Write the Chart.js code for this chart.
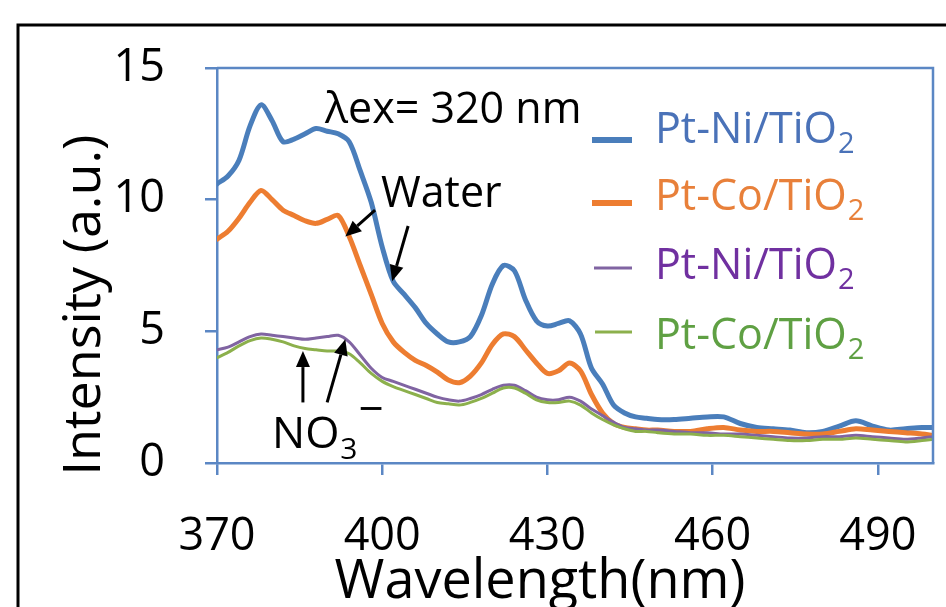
<!DOCTYPE html>
<html>
<head>
<meta charset="utf-8">
<title>PL spectra</title>
<script src="https://cdn.jsdelivr.net/npm/chart.js@4.4.0/dist/chart.umd.min.js"></script>
<style>
  html, body { margin: 0; padding: 0; background: #fff; }
  #wrap { width: 946px; height: 607px; }
</style>
</head>
<body>
<div id="wrap"><canvas id="myChart" width="946" height="607"></canvas></div>
<script>
//--- data
var wavelength = [370, 372, 374, 376, 378, 380, 382, 384, 386, 388, 390, 392, 394, 396, 398, 400,
    402, 404, 406, 408, 410, 412, 414, 416, 418, 420, 422, 424, 426, 428, 430, 432, 434, 436, 438,
    440, 442, 444, 446, 448, 450, 453, 456, 459, 462, 465, 468, 471, 474, 477, 480, 483, 486, 489,
    492, 495, 498, 500];
var ptNiWater = [10.6, 10.9, 11.5, 12.8, 13.6, 13.0, 12.2, 12.3, 12.5, 12.7, 12.6, 12.5, 12.2, 11.1, 9.9, 8.2,
    6.9, 6.4, 5.9, 5.3, 4.9, 4.6, 4.6, 4.8, 5.6, 6.8, 7.5, 7.3, 6.2, 5.4, 5.2, 5.3, 5.4, 4.9, 3.6,
    3.0, 2.2, 1.9, 1.75, 1.7, 1.65, 1.65, 1.7, 1.75, 1.75, 1.5, 1.35, 1.3, 1.25, 1.15, 1.2, 1.4, 1.6, 1.4,
    1.25, 1.3, 1.35, 1.35];
var ptCoWater = [8.5, 8.8, 9.3, 9.9, 10.35, 10.0, 9.6, 9.4, 9.2, 9.1, 9.25, 9.4, 8.6, 7.5, 6.4, 5.3,
    4.6, 4.2, 3.9, 3.7, 3.45, 3.15, 3.05, 3.3, 3.8, 4.5, 4.9, 4.8, 4.3, 3.8, 3.4, 3.5, 3.8, 3.5, 2.6,
    1.9, 1.5, 1.35, 1.3, 1.25, 1.25, 1.2, 1.2, 1.3, 1.35, 1.25, 1.2, 1.2, 1.15, 1.1, 1.1, 1.2, 1.3, 1.25,
    1.2, 1.15, 1.1, 1.05];
var ptNiNitrate = [4.3, 4.4, 4.6, 4.8, 4.9, 4.85, 4.8, 4.75, 4.7, 4.75, 4.8, 4.85, 4.6, 4.1, 3.6, 3.25,
    3.1, 2.95, 2.8, 2.65, 2.5, 2.4, 2.35, 2.45, 2.6, 2.8, 2.95, 2.95, 2.75, 2.5, 2.4, 2.4, 2.5, 2.35, 2.05,
    1.8, 1.55, 1.35, 1.3, 1.25, 1.25, 1.2, 1.15, 1.15, 1.1, 1.1, 1.05, 1.0, 0.95, 0.95, 1.0, 1.0, 1.05, 1.0,
    0.95, 0.9, 0.95, 1.0];
var ptCoNitrate = [4.0, 4.2, 4.45, 4.65, 4.75, 4.7, 4.6, 4.45, 4.35, 4.3, 4.25, 4.25, 4.15, 3.8, 3.4, 3.1,
    2.9, 2.75, 2.6, 2.45, 2.3, 2.25, 2.2, 2.3, 2.45, 2.65, 2.85, 2.85, 2.65, 2.4, 2.3, 2.3, 2.35, 2.2, 1.9,
    1.65, 1.45, 1.3, 1.2, 1.2, 1.15, 1.1, 1.1, 1.05, 1.05, 1.0, 0.95, 0.9, 0.85, 0.85, 0.9, 0.9, 0.95, 0.9,
    0.85, 0.8, 0.85, 0.9];
var seriesLabels = ['Pt-Ni/TiO2', 'Pt-Co/TiO2', 'Pt-Ni/TiO2', 'Pt-Co/TiO2'];
var xTicks = [370, 400, 430, 460, 490];
var yTicks = [0, 5, 10, 15];

var FONT = "'Open Sans', sans-serif";
var AXIS = '#5b87c4';

function toPoints(values) {
    return values.map(function (v, i) { return { x: wavelength[i], y: v }; });
}

// arrow with filled head, from (x1,y1) to the tip (x2,y2)
function arrow(ctx, x1, y1, x2, y2) {
    var a = Math.atan2(y2 - y1, x2 - x1), L = 16, W = 7;
    var bx = x2 - L * Math.cos(a), by = y2 - L * Math.sin(a);
    ctx.beginPath();
    ctx.moveTo(x1, y1);
    ctx.lineTo(bx, by);
    ctx.stroke();
    ctx.beginPath();
    ctx.moveTo(x2, y2);
    ctx.lineTo(bx + W * Math.sin(a), by - W * Math.cos(a));
    ctx.lineTo(bx - W * Math.sin(a), by + W * Math.cos(a));
    ctx.closePath();
    ctx.fill();
}

// text with the last char as subscript (TiO2, NO3)
function subText(ctx, text, x, y, size, subSize, drop) {
    var base = text.slice(0, -1), sub = text.slice(-1);
    ctx.font = size + 'px ' + FONT;
    ctx.fillText(base, x, y);
    var w = ctx.measureText(base).width;
    ctx.font = subSize + 'px ' + FONT;
    ctx.fillText(sub, x + w + 1, y + drop);
    return x + w + 1 + ctx.measureText(sub).width;
}

var decorations = {
    id: 'decorations',
    beforeDraw: function (chart) {
        var ctx = chart.ctx;
        ctx.save();
        ctx.fillStyle = '#fff';
        ctx.fillRect(0, 0, chart.width, chart.height);
        ctx.strokeStyle = '#000';
        ctx.lineWidth = 3;
        ctx.strokeRect(18, 25, chart.width + 20, chart.height + 20);
        ctx.restore();
    },
    afterDraw: function (chart) {
        var ctx = chart.ctx, a = chart.chartArea;
        var sx = chart.scales.x, sy = chart.scales.y;
        ctx.save();
        // top and right frame of the plot area
        ctx.strokeStyle = AXIS;
        ctx.lineWidth = 2.5;
        ctx.beginPath();
        ctx.moveTo(a.left, a.top);
        ctx.lineTo(a.right, a.top);
        ctx.lineTo(a.right, a.bottom);
        ctx.stroke();

        // axis titles
        ctx.fillStyle = '#000';
        ctx.textBaseline = 'alphabetic';
        ctx.textAlign = 'center';
        ctx.font = '54px ' + FONT;
        ctx.fillText('Wavelength(nm)', 540, 598);
        ctx.save();
        ctx.translate(100, 305);
        ctx.rotate(-Math.PI / 2);
        ctx.font = '52px ' + FONT;
        ctx.fillText('Intensity (a.u.)', 0, 0);
        ctx.restore();

        // annotations
        ctx.textAlign = 'left';
        ctx.font = '43px ' + FONT;
        ctx.fillText('\u03BBex= 320 nm', 325, 123);
        ctx.fillText('Water', 381, 207);
        var nEnd = subText(ctx, 'NO3', 272, 448, 44, 30, 11);
        ctx.font = '44px ' + FONT;
        ctx.fillText('\u2212', nEnd + 1, 424);

        ctx.strokeStyle = '#000';
        ctx.lineWidth = 3;
        arrow(ctx, sx.getPixelForValue(398.7), sy.getPixelForValue(9.6), sx.getPixelForValue(393.3), sy.getPixelForValue(8.6));
        arrow(ctx, sx.getPixelForValue(404.7), sy.getPixelForValue(9.0), sx.getPixelForValue(401.8), sy.getPixelForValue(6.9));
        arrow(ctx, sx.getPixelForValue(385.6), sy.getPixelForValue(2.3), sx.getPixelForValue(385.6), sy.getPixelForValue(4.25));
        arrow(ctx, sx.getPixelForValue(390.0), sy.getPixelForValue(2.3), sx.getPixelForValue(393.3), sy.getPixelForValue(4.7));

        // legend
        var rows = [
            { y: 143, line: 140, x0: 592, w: 6, color: '#4a7ebb', text: '#4a72b8' },
            { y: 210, line: 203, x0: 592, w: 6, color: '#ed7d31', text: '#e8803a' },
            { y: 279, line: 268, x0: 594, w: 3, color: '#8064a2', text: '#7030a0' },
            { y: 349, line: 332, x0: 595, w: 3, color: '#8cb04c', text: '#5fa043' }
        ];
        rows.forEach(function (r, i) {
            ctx.strokeStyle = r.color;
            ctx.lineWidth = r.w;
            ctx.beginPath();
            ctx.moveTo(r.x0, r.line);
            ctx.lineTo(632, r.line);
            ctx.stroke();
            ctx.fillStyle = r.text;
            subText(ctx, seriesLabels[i], 655, r.y, 43, 29, 10);
        });
        ctx.restore();
    }
};

var ctx = document.getElementById('myChart');
new Chart(ctx, {
    type: 'line',
    data: {
        datasets: [
            { label: seriesLabels[0], data: toPoints(ptNiWater), borderColor: '#4a7ebb', borderWidth: 5, order: 3 },
            { label: seriesLabels[1], data: toPoints(ptCoWater), borderColor: '#ed7d31', borderWidth: 5, order: 2 },
            { label: seriesLabels[2], data: toPoints(ptNiNitrate), borderColor: '#8064a2', borderWidth: 3, order: 1 },
            { label: seriesLabels[3], data: toPoints(ptCoNitrate), borderColor: '#8cb04c', borderWidth: 3, order: 0 }
        ]
    },
    options: {
        responsive: false,
        animation: false,
        devicePixelRatio: 1,
        layout: { padding: { left: 0, top: 68, right: 13, bottom: 0 } },
        elements: {
            point: { radius: 0 },
            line: { tension: 0.3, borderCapStyle: 'round', borderJoinStyle: 'round', fill: false }
        },
        plugins: { legend: { display: false }, tooltip: { enabled: false } },
        scales: {
            x: {
                type: 'linear',
                min: 370,
                max: 500,
                afterBuildTicks: function (s) { s.ticks = xTicks.map(function (v) { return { value: v }; }); },
                afterFit: function (s) { s.height = 144; s.paddingLeft = 0; s.paddingRight = 0; },
                grid: { drawOnChartArea: false, color: AXIS, lineWidth: 2.5, tickLength: 12 },
                border: { color: AXIS, width: 2.5 },
                ticks: { color: '#000', padding: 35, maxRotation: 0, autoSkip: false, font: { family: FONT, size: 45 } }
            },
            y: {
                min: 0,
                max: 15,
                afterBuildTicks: function (s) { s.ticks = yTicks.map(function (v) { return { value: v }; }); },
                afterFit: function (s) { s.width = 217; s.paddingTop = 0; s.paddingBottom = 0; },
                grid: { drawOnChartArea: false, color: AXIS, lineWidth: 2.5, tickLength: 12 },
                border: { color: AXIS, width: 2.5 },
                ticks: { color: '#000', padding: 40, font: { family: FONT, size: 45 } }
            }
        }
    },
    plugins: [decorations]
});
</script>
</body>
</html>
